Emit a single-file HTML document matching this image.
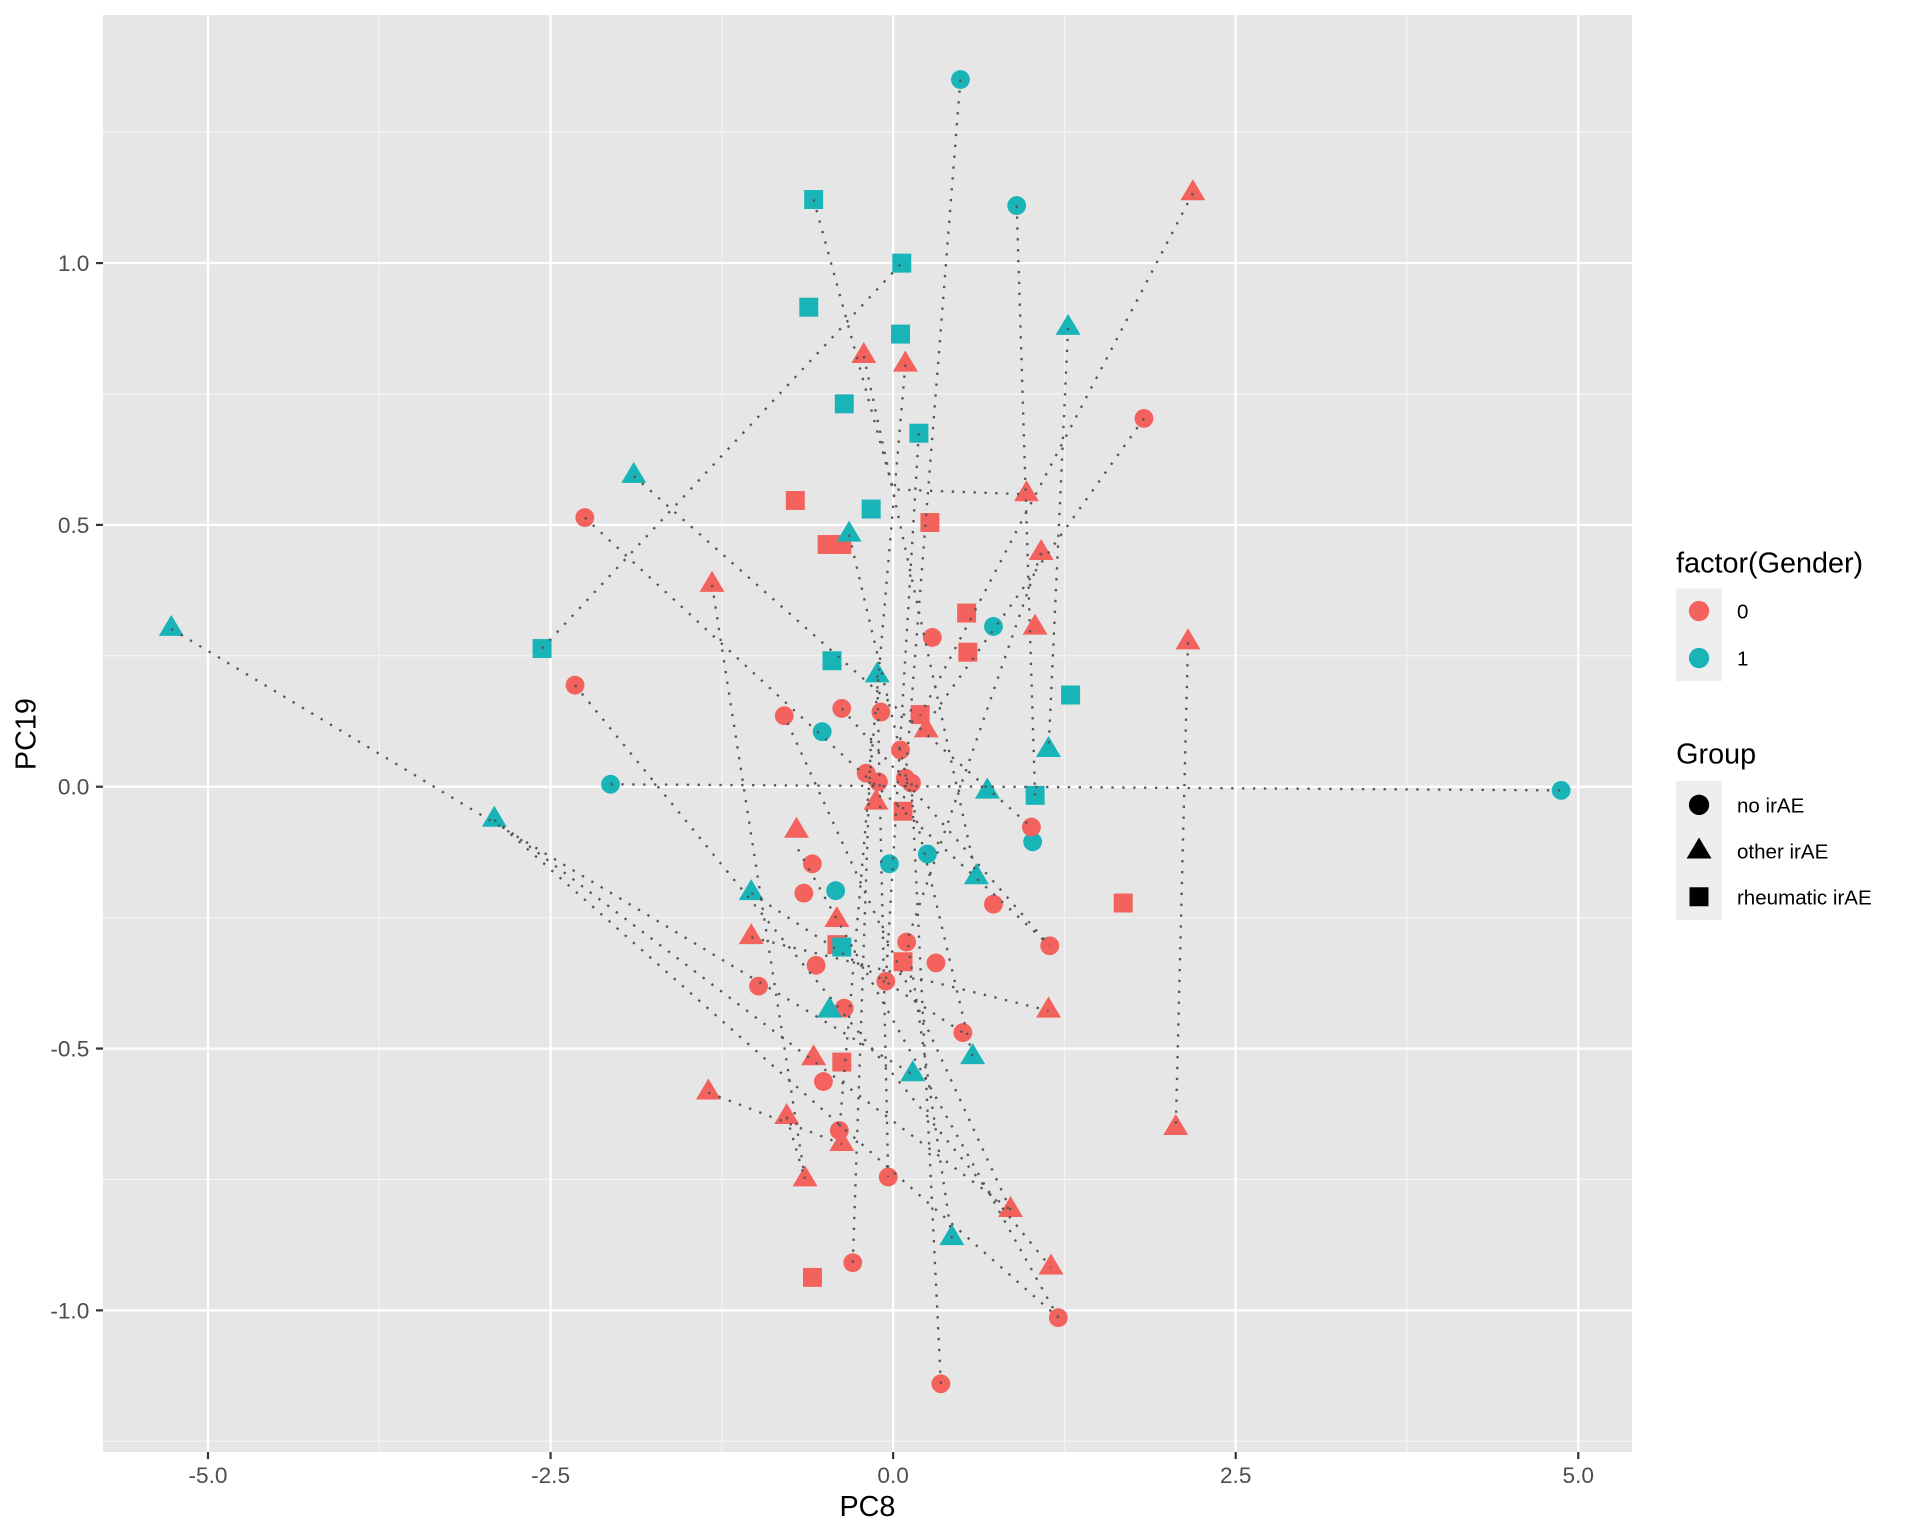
<!DOCTYPE html>
<html><head><meta charset="utf-8"><style>
html,body{margin:0;padding:0;background:#fff;}
svg{display:block;}
text{font-family:"Liberation Sans",Arial,sans-serif;}
</style></head><body>
<svg width="1920" height="1536" viewBox="0 0 1569.3 1255.4" xmlns="http://www.w3.org/2000/svg">
<rect x="0" y="0" width="1569.3" height="1255.4" fill="#fff"/>
<rect x="84.2" y="12.3" width="1249.7" height="1174.5" fill="#E6E6E6"/>
<g stroke="#F5F5F5" stroke-width="0.9">
<line x1="310" y1="12.3" x2="310" y2="1186.8"/><line x1="590" y1="12.3" x2="590" y2="1186.8"/>
<line x1="870" y1="12.3" x2="870" y2="1186.8"/><line x1="1150" y1="12.3" x2="1150" y2="1186.8"/>
<line x1="84.2" y1="108" x2="1333.9" y2="108"/><line x1="84.2" y1="322" x2="1333.9" y2="322"/>
<line x1="84.2" y1="536" x2="1333.9" y2="536"/><line x1="84.2" y1="750" x2="1333.9" y2="750"/>
<line x1="84.2" y1="964" x2="1333.9" y2="964"/><line x1="84.2" y1="1178" x2="1333.9" y2="1178"/>
</g>
<g stroke="#fff" stroke-width="1.8">
<line x1="170" y1="12.3" x2="170" y2="1186.8"/><line x1="450" y1="12.3" x2="450" y2="1186.8"/>
<line x1="730" y1="12.3" x2="730" y2="1186.8"/><line x1="1010" y1="12.3" x2="1010" y2="1186.8"/>
<line x1="1290" y1="12.3" x2="1290" y2="1186.8"/>
<line x1="84.2" y1="215" x2="1333.9" y2="215"/><line x1="84.2" y1="429" x2="1333.9" y2="429"/>
<line x1="84.2" y1="643" x2="1333.9" y2="643"/><line x1="84.2" y1="857" x2="1333.9" y2="857"/>
<line x1="84.2" y1="1071" x2="1333.9" y2="1071"/>
</g>
<!-- points -->
<g fill="#18B4B8">
<circle cx="785" cy="65" r="7.7"/><circle cx="831" cy="168" r="7.7"/><circle cx="812" cy="512" r="7.7"/>
<circle cx="672" cy="598" r="7.7"/><circle cx="499" cy="641" r="7.7"/><circle cx="1276" cy="646" r="7.7"/>
<circle cx="844" cy="688" r="7.7"/><circle cx="727" cy="706" r="7.7"/><circle cx="758" cy="698" r="7.7"/>
<circle cx="683" cy="728" r="7.7"/>
<rect x="657.3" y="155.3" width="15.5" height="15.5"/><rect x="729.3" y="207.3" width="15.5" height="15.5"/>
<rect x="653.3" y="243.3" width="15.5" height="15.5"/><rect x="728.3" y="265.3" width="15.5" height="15.5"/>
<rect x="682.3" y="322.3" width="15.5" height="15.5"/><rect x="743.3" y="346.3" width="15.5" height="15.5"/>
<rect x="704.3" y="408.3" width="15.5" height="15.5"/><rect x="435.3" y="522.3" width="15.5" height="15.5"/>
<rect x="672.3" y="532.3" width="15.5" height="15.5"/><rect x="867.3" y="560.3" width="15.5" height="15.5"/>
<rect x="838.3" y="642.3" width="15.5" height="15.5"/>
</g>
<g fill="#F4625E">
<circle cx="935" cy="342" r="7.7"/><circle cx="478" cy="423" r="7.7"/><circle cx="470" cy="560" r="7.7"/>
<circle cx="641" cy="585" r="7.7"/><circle cx="688" cy="579" r="7.7"/><circle cx="720" cy="582" r="7.7"/>
<circle cx="736" cy="613" r="7.7"/><circle cx="708" cy="632" r="7.7"/><circle cx="740" cy="636" r="7.7"/>
<circle cx="718" cy="639" r="7.7"/><circle cx="745" cy="640" r="7.7"/><circle cx="843" cy="676" r="7.7"/>
<circle cx="664" cy="706" r="7.7"/><circle cx="657" cy="730" r="7.7"/><circle cx="812" cy="739" r="7.7"/>
<circle cx="741" cy="770" r="7.7"/><circle cx="858" cy="773" r="7.7"/><circle cx="667" cy="789" r="7.7"/>
<circle cx="765" cy="787" r="7.7"/><circle cx="724" cy="802" r="7.7"/><circle cx="620" cy="806" r="7.7"/>
<circle cx="690" cy="824" r="7.7"/><circle cx="787" cy="844" r="7.7"/><circle cx="673" cy="884" r="7.7"/>
<circle cx="686" cy="924" r="7.7"/><circle cx="726" cy="962" r="7.7"/><circle cx="697" cy="1032" r="7.7"/>
<circle cx="865" cy="1077" r="7.7"/><circle cx="769" cy="1131" r="7.7"/><circle cx="762" cy="521" r="7.7"/>
<rect x="642.3" y="401.3" width="15.5" height="15.5"/><rect x="752.3" y="419.3" width="15.5" height="15.5"/>
<rect x="668.3" y="437.3" width="15.5" height="15.5"/><rect x="680.3" y="437.3" width="15.5" height="15.5"/>
<rect x="782.3" y="493.3" width="15.5" height="15.5"/><rect x="783.3" y="525.3" width="15.5" height="15.5"/>
<rect x="744.3" y="576.3" width="15.5" height="15.5"/><rect x="730.3" y="655.3" width="15.5" height="15.5"/>
<rect x="910.3" y="730.3" width="15.5" height="15.5"/><rect x="676.3" y="764.3" width="15.5" height="15.5"/>
<rect x="730.3" y="778.3" width="15.5" height="15.5"/><rect x="680.3" y="860.3" width="15.5" height="15.5"/>
<rect x="656.3" y="1036.3" width="15.5" height="15.5"/>
</g>
<g fill="#18B4B8"><rect x="680.3" y="766.3" width="15.5" height="15.5"/></g>
<g fill="#F4625E">
<path d="M975 146.5l-10.2 17.2h20.4z"/><path d="M706 279.5l-10.2 17.2h20.4z"/><path d="M740 286.5l-10.2 17.2h20.4z"/>
<path d="M839 392.5l-10.2 17.2h20.4z"/><path d="M851 440.5l-10.2 17.2h20.4z"/><path d="M582 466.5l-10.2 17.2h20.4z"/>
<path d="M846 501.5l-10.2 17.2h20.4z"/><path d="M971 513.5l-10.2 17.2h20.4z"/><path d="M757 585.5l-10.2 17.2h20.4z"/>
<path d="M716 644.5l-10.2 17.2h20.4z"/><path d="M651 667.5l-10.2 17.2h20.4z"/><path d="M684 740.5l-10.2 17.2h20.4z"/>
<path d="M614 754.5l-10.2 17.2h20.4z"/><path d="M857 814.5l-10.2 17.2h20.4z"/><path d="M665 853.5l-10.2 17.2h20.4z"/>
<path d="M579 881.5l-10.2 17.2h20.4z"/><path d="M643 901.5l-10.2 17.2h20.4z"/><path d="M688 923.5l-10.2 17.2h20.4z"/>
<path d="M658 952.5l-10.2 17.2h20.4z"/><path d="M961 910.5l-10.2 17.2h20.4z"/><path d="M826 977.5l-10.2 17.2h20.4z"/>
<path d="M859 1024.5l-10.2 17.2h20.4z"/>
</g>
<g fill="#18B4B8">
<path d="M140 502.5l-10.2 17.2h20.4z"/><path d="M518 377.5l-10.2 17.2h20.4z"/><path d="M694 425.5l-10.2 17.2h20.4z"/>
<path d="M873 256.5l-10.2 17.2h20.4z"/><path d="M717 540.5l-10.2 17.2h20.4z"/><path d="M857 601.5l-10.2 17.2h20.4z"/>
<path d="M807 635.5l-10.2 17.2h20.4z"/><path d="M404 658.5l-10.2 17.2h20.4z"/><path d="M614 718.5l-10.2 17.2h20.4z"/>
<path d="M798 705.5l-10.2 17.2h20.4z"/><path d="M678 814.5l-10.2 17.2h20.4z"/><path d="M795 852.5l-10.2 17.2h20.4z"/>
<path d="M746 866.5l-10.2 17.2h20.4z"/><path d="M778 1000.5l-10.2 17.2h20.4z"/>
</g>
<!-- connecting dotted lines -->
<g stroke="#555" stroke-width="1.9" stroke-dasharray="1.9 7" stroke-linecap="butt" fill="none">
<line x1="140" y1="514" x2="746" y2="878"/>
<line x1="404" y1="670" x2="826" y2="989"/>
<line x1="404" y1="670" x2="865" y2="1077"/>
<line x1="443" y1="530" x2="737" y2="215"/>
<polyline points="665,163 730,400 839,404"/>
<line x1="785" y1="65" x2="738" y2="663"/>
<line x1="831" y1="168" x2="846" y2="650"/>
<line x1="975" y1="158" x2="752" y2="585"/>
<line x1="873" y1="268" x2="857" y2="613"/>
<line x1="935" y1="342" x2="762" y2="585"/>
<line x1="518" y1="389" x2="843" y2="676"/>
<line x1="478" y1="423" x2="858" y2="773"/>
<line x1="470" y1="560" x2="859" y2="1036"/>
<line x1="499" y1="641" x2="1276" y2="646"/>
<line x1="582" y1="478" x2="658" y2="964"/>
<line x1="579" y1="893" x2="688" y2="935"/>
<line x1="643" y1="913" x2="658" y2="964"/>
<line x1="971" y1="525" x2="961" y2="922"/>
<line x1="614" y1="766" x2="857" y2="826"/>
<line x1="697" y1="1032" x2="712" y2="600"/>
<line x1="769" y1="1131" x2="745" y2="640"/>
<line x1="865" y1="1077" x2="650" y2="690"/>
<line x1="826" y1="989" x2="641" y2="585"/>
<line x1="778" y1="1012" x2="742" y2="770"/>
<line x1="694" y1="437" x2="795" y2="864"/>
<line x1="740" y1="298" x2="686" y2="924"/>
<line x1="706" y1="291" x2="798" y2="717"/>
<line x1="751" y1="354" x2="724" y2="802"/>
<line x1="851" y1="452" x2="741" y2="770"/>
<line x1="688" y1="579" x2="858" y2="773"/>
<line x1="614" y1="730" x2="787" y2="844"/>
<line x1="717" y1="552" x2="726" y2="962"/>
</g>
<!-- axes ticks -->
<g stroke="#333" stroke-width="1.8">
<line x1="170" y1="1186.8" x2="170" y2="1192.5"/><line x1="450" y1="1186.8" x2="450" y2="1192.5"/>
<line x1="730" y1="1186.8" x2="730" y2="1192.5"/><line x1="1010" y1="1186.8" x2="1010" y2="1192.5"/>
<line x1="1290" y1="1186.8" x2="1290" y2="1192.5"/>
<line x1="78.5" y1="215" x2="84.2" y2="215"/><line x1="78.5" y1="429" x2="84.2" y2="429"/>
<line x1="78.5" y1="643" x2="84.2" y2="643"/><line x1="78.5" y1="857" x2="84.2" y2="857"/>
<line x1="78.5" y1="1071" x2="84.2" y2="1071"/>
</g>
<g fill="#4D4D4D" font-size="18.5" text-anchor="middle">
<text x="170" y="1212">-5.0</text><text x="450" y="1212">-2.5</text><text x="730" y="1212">0.0</text>
<text x="1010" y="1212">2.5</text><text x="1290" y="1212">5.0</text>
</g>
<g fill="#4D4D4D" font-size="18.5" text-anchor="end">
<text x="73" y="221.5">1.0</text><text x="73" y="435.5">0.5</text><text x="73" y="649.5">0.0</text>
<text x="73" y="863.5">-0.5</text><text x="73" y="1077.5">-1.0</text>
</g>
<text x="709" y="1239" font-size="23.5" text-anchor="middle" fill="#000">PC8</text>
<text transform="translate(29,600) rotate(-90)" font-size="23.5" text-anchor="middle" fill="#000">PC19</text>
<!-- legend -->
<text x="1370" y="468" font-size="23.5" fill="#000">factor(Gender)</text>
<rect x="1370" y="481" width="37.5" height="75.6" fill="#EEEEEE"/>
<circle cx="1388.7" cy="499.4" r="8.3" fill="#F4625E"/>
<circle cx="1388.7" cy="537.8" r="8.3" fill="#18B4B8"/>
<text x="1419.7" y="505.5" font-size="16.8" fill="#000">0</text>
<text x="1419.7" y="543.9" font-size="16.8" fill="#000">1</text>
<text x="1370" y="624" font-size="23.5" fill="#000">Group</text>
<rect x="1370" y="638.3" width="37.5" height="113.7" fill="#EEEEEE"/>
<circle cx="1388.7" cy="657.8" r="8.3" fill="#000"/>
<path d="M1388.7 684.5l-10.2 17.2h20.4z" fill="#000"/>
<rect x="1380.9" y="725.2" width="15.5" height="15.5" fill="#000"/>
<text x="1419.7" y="663.9" font-size="16.8" fill="#000">no irAE</text>
<text x="1419.7" y="701.5" font-size="16.8" fill="#000">other irAE</text>
<text x="1419.7" y="739.1" font-size="16.8" fill="#000">rheumatic irAE</text>
</svg>
</body></html>
